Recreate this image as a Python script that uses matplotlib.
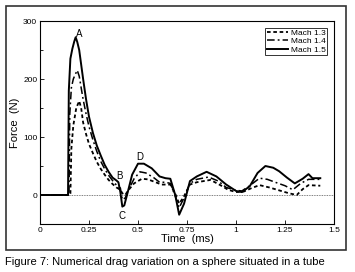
import matplotlib
matplotlib.use("Agg")
import matplotlib.pyplot as plt
from matplotlib.patches import Rectangle
from matplotlib.ticker import MultipleLocator

plt.rcParams['font.family'] = ['Liberation Sans', 'DejaVu Sans']

# Mach 1.5 (solid)
t15 = [0, 0.143, 0.147, 0.155, 0.165, 0.175, 0.182, 0.19, 0.20, 0.21,
       0.22, 0.235, 0.25, 0.27, 0.29, 0.31, 0.33, 0.35, 0.37, 0.39,
       0.40, 0.41, 0.42, 0.43, 0.45, 0.47, 0.50, 0.53, 0.57, 0.61,
       0.64, 0.665, 0.69, 0.71, 0.735, 0.765, 0.80, 0.85, 0.90, 0.95,
       1.00, 1.03, 1.07, 1.11, 1.15, 1.19, 1.22, 1.26, 1.30, 1.34,
       1.37, 1.39, 1.43]
f15 = [0, 0, 180, 235, 252, 265, 272, 264, 250, 225,
       200, 165, 135, 107, 85, 68, 52, 40, 30, 25,
       22, 5, -20, -18, 8, 35, 54, 54, 46, 32,
       29, 28, 0, -34, -15, 24, 32, 40, 32, 18,
       7, 5, 15, 38, 50, 47, 41, 30, 20, 28,
       36, 29, 29]

# Mach 1.4 (dash-dot)
t14 = [0, 0.148, 0.152, 0.16, 0.17, 0.18, 0.19, 0.20, 0.21, 0.22,
       0.235, 0.25, 0.27, 0.29, 0.31, 0.33, 0.35, 0.37, 0.39, 0.41,
       0.42, 0.435, 0.45, 0.48, 0.51, 0.54, 0.58, 0.61, 0.64, 0.665,
       0.69, 0.71, 0.735, 0.765, 0.80, 0.86, 0.91, 0.95, 1.00, 1.03,
       1.07, 1.12, 1.16, 1.20, 1.25, 1.29, 1.33, 1.37, 1.43]
f14 = [0, 0, 140, 185, 200, 208, 215, 205, 185, 165,
       140, 118, 95, 75, 58, 45, 34, 25, 17, 12,
       -8, -5, 8, 28, 40, 38, 30, 22, 22, 20,
       -2, -22, -5, 20, 27, 31, 24, 13, 8, 7,
       16, 29, 27, 22, 16, 9, 20, 27, 27]

# Mach 1.3 (dotted)
t13 = [0, 0.155, 0.16, 0.17, 0.185, 0.20, 0.21, 0.22, 0.235, 0.25,
       0.27, 0.29, 0.31, 0.33, 0.35, 0.37, 0.39, 0.41, 0.42, 0.435,
       0.45, 0.48, 0.52, 0.55, 0.59, 0.62, 0.665, 0.69, 0.71, 0.735,
       0.765, 0.80, 0.87, 0.92, 0.96, 1.00, 1.04, 1.08, 1.12, 1.17,
       1.22, 1.27, 1.31, 1.34, 1.37, 1.43]
f13 = [0, 0, 80, 120, 150, 162, 150, 125, 105, 88,
       72, 57, 45, 35, 26, 19, 13, 9, 3, 0,
       8, 20, 28, 27, 22, 18, 18, 2, -15, -2,
       18, 22, 26, 17, 9, 5, 6, 12, 17, 13,
       8, 3, 0, 10, 17, 16]

labels = ["Mach 1.3", "Mach 1.4", "Mach 1.5"]
x_ticks = [0, 0.25, 0.5, 0.75, 1, 1.25, 1.5]
x_tick_labels = ["0", "0.25", "0.5", "0.75", "1", "1.25", "1.5"]
y_ticks = [0, 100, 200, 300]

fig = plt.figure(figsize=(3.55, 2.72), dpi=100)
ax = fig.add_axes([40 / 355, 48 / 272, 294 / 355, 203 / 272])

ax.axhline(0, color="#555555", lw=0.6, ls=(0, (1, 1)), zorder=1)
ax.plot(t13, f13, color="black", lw=1.3, ls=(0, (2, 1.5)), label=labels[0])
ax.plot(t14, f14, color="black", lw=1.1, ls=(0, (5, 2, 1.2, 2)), label=labels[1])
ax.plot(t15, f15, color="black", lw=1.4, ls="-", label=labels[2])

ax.set_xlim(0, 1.5)
ax.set_ylim(-50, 300)
ax.set_xticks(x_ticks)
ax.set_xticklabels(x_tick_labels)
ax.set_yticks(y_ticks)
ax.yaxis.set_minor_locator(MultipleLocator(50))
ax.tick_params(which="both", direction="in", labelsize=6, width=0.6, pad=2)
ax.tick_params(which="major", length=3)
ax.tick_params(which="minor", length=2)
for s in ax.spines.values():
    s.set_linewidth(0.8)

ax.set_xlabel("Time  (ms)", fontsize=8, labelpad=0)
ax.set_ylabel("Force  (N)", fontsize=8, labelpad=2)

# point labels
ax.text(0.20, 278, "A", fontsize=7, ha="center", va="center")
ax.text(0.405, 32, "B", fontsize=7, ha="center", va="center")
ax.text(0.42, -36, "C", fontsize=7, ha="center", va="center")
ax.text(0.51, 65, "D", fontsize=7, ha="center", va="center")

leg = ax.legend(loc="upper right", fontsize=6, frameon=True, fancybox=False,
                edgecolor="black", handlelength=2.6, handletextpad=0.3,
                borderpad=0.2, labelspacing=0.05, borderaxespad=0.8)
leg.get_frame().set_linewidth(0.7)

fig.patches.append(Rectangle((6 / 355, 22 / 272), 340 / 355, 244 / 272,
                             transform=fig.transFigure, fill=False,
                             edgecolor="#333333", lw=1.2))

fig.text(5 / 355, 1 - 262 / 272,
         "Figure 7: Numerical drag variation on a sphere situated in a tube",
         fontsize=8, ha="left", va="center")

fig.savefig("out.png", dpi=100)
